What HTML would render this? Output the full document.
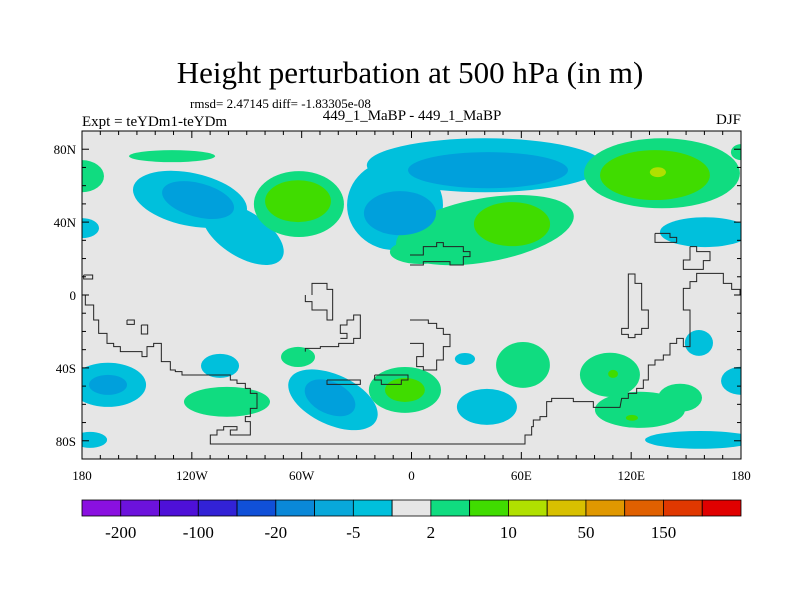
<!DOCTYPE html>
<html><head><meta charset="utf-8"><style>
body{margin:0;background:#fff;}
svg{display:block;font-family:"Liberation Serif",serif;}
</style></head><body>
<svg id="chart" width="800" height="600" viewBox="0 0 800 600">
<text x="410" y="83" font-size="31" text-anchor="middle">Height perturbation at 500 hPa (in m)</text>
<text x="190" y="108" font-size="13">rmsd= 2.47145 diff= -1.83305e-08</text>
<text x="82" y="126" font-size="15">Expt = teYDm1-teYDm</text>
<text x="412" y="120" font-size="15" text-anchor="middle">449_1_MaBP - 449_1_MaBP</text>
<text x="741" y="124" font-size="15" text-anchor="end">DJF</text>
<defs><clipPath id="pc"><rect x="82" y="131" width="659" height="328"/></clipPath></defs>
<rect x="82" y="131" width="659" height="328" fill="#e6e6e6"/>
<g id="blobs" clip-path="url(#pc)"></g>
<g id="coast" clip-path="url(#pc)" fill="none" stroke="#222" stroke-width="1"></g>
<rect x="82" y="131" width="659" height="328" fill="none" stroke="#000" stroke-width="1"/>
<g id="ticks" stroke="#000" stroke-width="1"></g>
<g id="labels" font-size="13"></g>
<g id="colorbar"></g>
</svg>
<script>
// anomaly blobs (degrees lon/lat, radii in degrees, perturbation value in m)
const blobLon  = [-130.8,-180,180,-180,-121,-92,-116.6,-61.5,-62,40.1,-9,41.8,-6.3,40.1,4.6,54.9,136.8,133,134.6,160.3,-165.8,-165.8,-175.6,-104.6,-100.8,-62,-42.9,-44.5,-3.6,-3.6,29.2,60.9,41.2,108.4,110.1,124.8,146.7,157,180,157.6,120.4];
const blobLat  = [76.2,65.2,78.4,36.7,52.5,33.5,52.1,49.9,51.5,71.2,49.3,68.5,44.9,35.6,23.6,38.9,66.8,65.8,67.4,34.5,-49.3,-49.3,-79.5,-38.9,-58.6,-34,-57.5,-56.4,-52.1,-52.1,-35.1,-38.4,-61.4,-43.8,-43.3,-63,-56.4,-26.3,-47.1,-79.5,-67.4];
const blobRLon = [23.5,12,5.5,9.3,31.7,25,20.2,24.6,18,64.5,26.2,43.7,19.7,49.2,16.4,20.8,42.6,30,4.4,24.6,20.8,10.4,9.3,10.4,23.5,9.3,26.2,14.7,19.7,10.9,5.5,14.7,16.4,16.4,2.7,24.6,12,7.7,10.9,30,3.3];
const blobRLat = [3.3,8.8,4.4,5.5,14.5,12.5,9.3,18.1,11.5,14.8,24.7,9.9,12.1,17.5,6.6,12.1,19.2,13.7,2.7,8.2,12.1,5.5,4.4,6.6,8.2,5.5,13.7,8.8,12.6,6.6,3.3,12.6,9.9,12.1,2.2,9.9,7.7,7.1,7.7,4.9,1.6];
const blobRot  = [0,0,0,0,12,32,15,0,0,0,0,0,0,-10,0,0,0,0,0,0,0,0,0,0,0,0,25,25,0,0,0,0,0,0,0,0,0,0,0,0,0];
const blobVal  = [3,3,3,-3,-3,-3,-7,3,12,-3,-3,-7,-7,3,3,12,3,12,30,-3,-3,-7,-3,-3,3,3,-3,-7,3,12,-3,3,-3,3,12,3,3,-3,-3,-3,12];
// colorbar
const cbColors = ["#8a10e0","#6c12dc","#4e10d8","#3222d6","#1050d8","#0a88d8","#08a8da","#00c0dc","#e6e6e6","#10dc80","#40dc00","#b0e000","#d8c000","#e09800","#e06000","#e03800","#e00000"];
const cbLabels = ["-200","-100","-20","-5","2","10","50","150"];
const cbLabelIdx = [1,3,5,7,9,11,13,15];
const lonTicks = [-180,-120,-60,0,60,120,180];
const lonLabels = ["180","120W","60W","0","60E","120E","180"];
const latTicks = [80,40,0,-40,-80];
const latLabels = ["80N","40N","0","40S","80S"];

const X0=82,W=659,Y0=131,H=328;
const xs = lon => X0 + (lon+180)/360*W;
const ys = lat => Y0 + (90-lat)/180*H;
const NS="http://www.w3.org/2000/svg";
function colorFor(v){
  if(v>=20) return "#b0e000";
  if(v>=10) return "#40dc00";
  if(v>=2) return "#10dc80";
  if(v<=-5) return "#00a0dc";
  return "#00c0dc";
}
const bg=document.getElementById('blobs');
const order=blobVal.map((v,i)=>i).sort((a,b)=>Math.abs(blobVal[a])-Math.abs(blobVal[b]));
order.forEach(i=>{
  const e=document.createElementNS(NS,'ellipse');
  const cx=xs(blobLon[i]), cy=ys(blobLat[i]);
  e.setAttribute('cx',cx);e.setAttribute('cy',cy);
  e.setAttribute('rx',blobRLon[i]/360*W);e.setAttribute('ry',blobRLat[i]/180*H);
  e.setAttribute('transform',`rotate(${blobRot[i]} ${cx} ${cy})`);
  e.setAttribute('fill',colorFor(blobVal[i]));
  
  
  bg.appendChild(e);
});
// coastlines (approximate, zoom-space point lists with offsets)
const coastSets=[
 [82,295,"10,0 10,30 35,30 35,75 50,75 50,115 75,115 75,145 95,145 95,155 115,155 115,170 180,170 180,185 195,185 195,155 215,155 215,145 238,145 238,200 265,200 265,225 280,225 280,230 300,230 300,240 445,240 445,255 465,255 465,265 490,265 490,280 505,280 505,295 525,295 525,340 505,340 505,365 490,365 490,380 505,380 505,420 445,420 445,405 465,405 465,395 425,395 425,405 405,405 405,420 385,420 385,447 1000,447"],
 [410,295,"0,447 345,447 345,420 365,420 365,395 370,395 370,375 390,375 390,365 410,365 410,320 425,320 425,310 490,310 490,320 550,320 550,337 630,337 635,310 655,310 655,295 680,295 680,280 700,280 700,255 715,255 715,210 735,210 735,195 760,195 760,180 780,180 780,145 800,145 800,130 820,130 820,155 840,155 840,45 820,45 820,0"],
 [410,295,"655,0 655,100 635,100 635,118 655,118 655,128 675,128 675,118 695,118 695,100 715,100 715,45 695,45 695,0"],
 [410,295,"0,75 55,75 55,85 80,85 80,100 100,100 100,118 120,118 120,155 100,155 100,195 80,195 80,225 40,225 40,215 20,215 20,185 40,185 40,145 0,145"],
 [82,295,"670,0 670,20 690,20 690,45 735,45 735,75 752,75 752,0"],
 [82,295,"775,130 795,130 795,115 775,115 775,90 795,90 795,75 815,75 815,60 835,60 835,130 815,130 815,145 770,145 770,155 715,155 715,160 670,160 670,170"],
 [410,130,"0,375 40,375 40,350 80,350 80,338 100,338 100,350 160,350 160,365 180,365 180,380 160,380 160,405 120,405 120,395 40,395 40,405 0,405"],
 [410,130,"820,495 820,475 840,475 840,455 860,455 860,430 940,430 940,460 965,460 965,478 990,478 990,495"],
 [410,130,"840,350 860,350 860,365 900,365 900,392 880,392 880,418 820,418 820,390 840,390 840,350"],
 [410,130,"655,495 655,432 675,432 675,460 695,460 695,495"],
 [410,130,"735,310 780,310 780,322 800,322 800,337 735,337 735,310"],
 [82,295,"135,75 157,75 157,88 135,88 135,75"],[82,295,"178,90 197,90 197,117 178,117 178,90"],
 [82,295,"735,255 835,255 835,268 735,268 735,255"],[82,295,"878,240 978,240 978,255 958,255 958,268 898,268 898,255 878,255 878,240"],
 [82,130,"5,435 32,435 32,447 5,447 5,435"],[82,130,"690,495 690,460 735,460 735,478 752,478 752,495"]
];
const cg=document.getElementById('coast');
coastSets.forEach(c=>{
  const p=document.createElementNS(NS,'polyline');
  p.setAttribute('points',c[2].split(' ').map(s=>{const [a,b]=s.split(',').map(Number);return (c[0]+a/3)+','+(c[1]+b/3);}).join(' '));
  
  
  cg.appendChild(p);
});
// ticks
const tg=document.getElementById('ticks');
function line(x1,y1,x2,y2){const l=document.createElementNS(NS,'line');l.setAttribute('x1',x1);l.setAttribute('y1',y1);l.setAttribute('x2',x2);l.setAttribute('y2',y2);tg.appendChild(l);}
for(let lon=-180;lon<=180;lon+=10){const x=xs(lon),L=(lon%60===0)?7:4;line(x,Y0,x,Y0+L);line(x,Y0+H,x,Y0+H-L);}
for(let lat=-90;lat<=90;lat+=10){const y=ys(lat),L=(lat%40===0)?7:4;line(X0,y,X0+L,y);line(X0+W,y,X0+W-L,y);}
const lg=document.getElementById('labels');
function txt(x,y,s,anchor,name,size){const t=document.createElementNS(NS,'text');t.setAttribute('x',x);t.setAttribute('y',y);t.setAttribute('text-anchor',anchor);if(size)t.setAttribute('font-size',size);t.textContent=s;lg.appendChild(t);}
lonTicks.forEach((v,i)=>txt(xs(v),480,lonLabels[i],'middle','x-tick-label'));
latTicks.forEach((v,i)=>txt(76,ys(v)+5,latLabels[i],'end','y-tick-label'));
// colorbar
const cb=document.getElementById('colorbar');
const bw=W/cbColors.length;
cbColors.forEach((c,i)=>{const r=document.createElementNS(NS,'rect');r.setAttribute('x',X0+i*bw);r.setAttribute('y',500);r.setAttribute('width',bw);r.setAttribute('height',16);r.setAttribute('fill',c);r.setAttribute('stroke','#000');r.setAttribute('stroke-width','0.8');


cb.appendChild(r);});
cbLabels.forEach((s,i)=>txt(X0+cbLabelIdx[i]*bw,538,s,'middle','colorbar-label','17'));
</script>
</body></html>
